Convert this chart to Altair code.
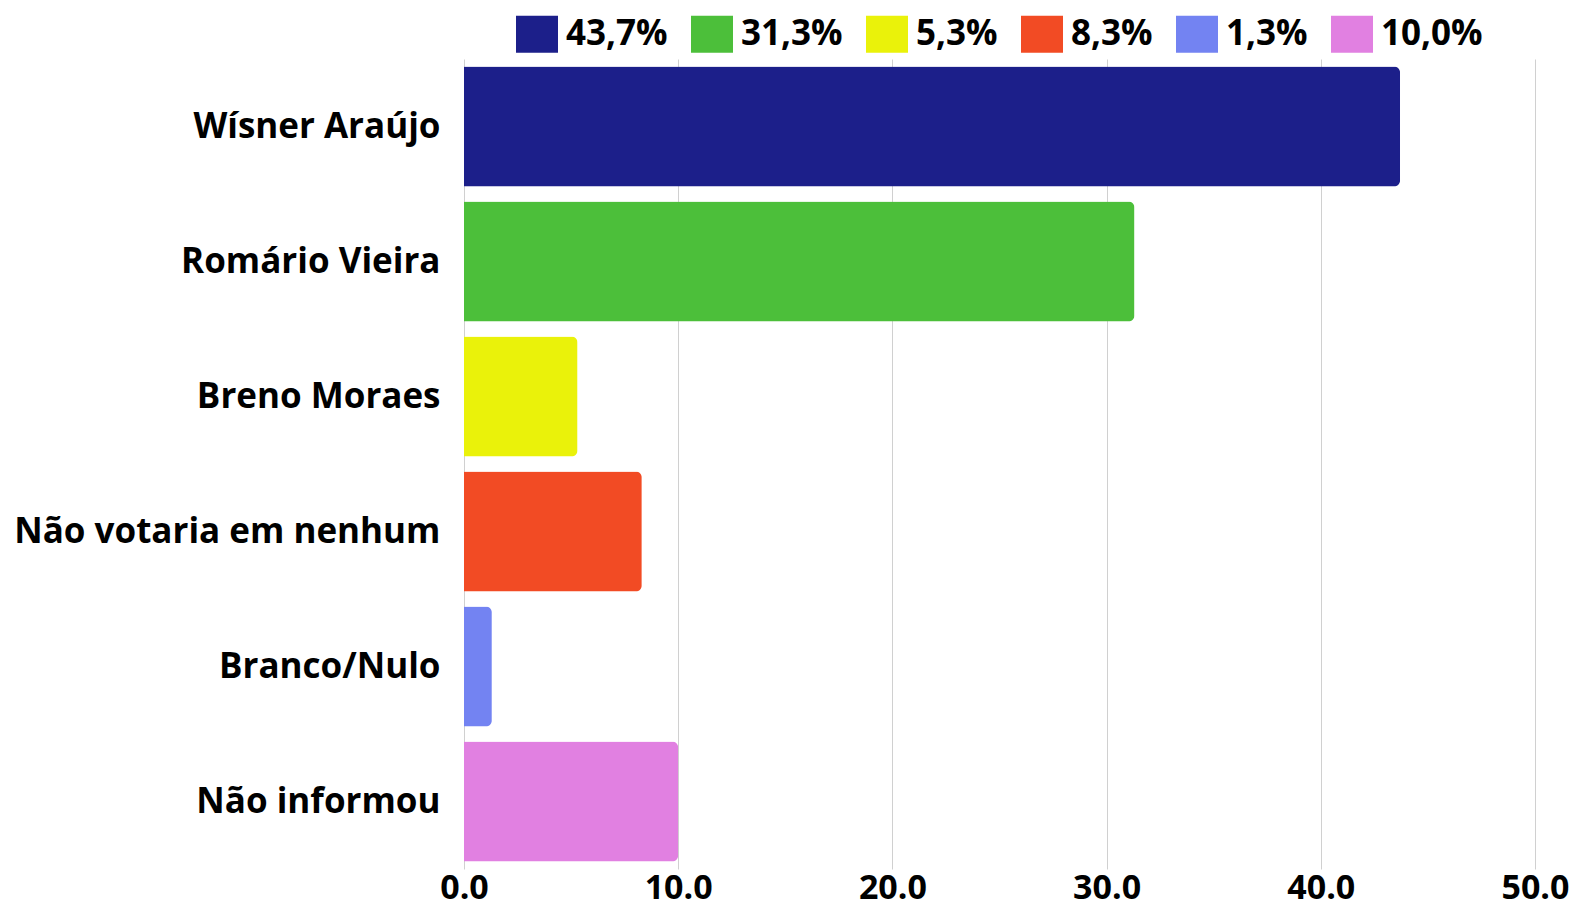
import altair as alt
import pandas as pd

categories = ["Wísner Araújo", "Romário Vieira", "Breno Moraes",
              "Não votaria em nenhum", "Branco/Nulo", "Não informou"]
values = [43.7, 31.3, 5.3, 8.3, 1.3, 10.0]
labels = ["43,7%", "31,3%", "5,3%", "8,3%", "1,3%", "10,0%"]
colors = ["#1C1F8A", "#4CBF3A", "#EAF20A", "#F24B24", "#7383F2", "#E180E1"]
x_ticks = [0, 10, 20, 30, 40, 50]

df = pd.DataFrame({"categoria": categories, "valor": values, "rotulo": labels})

FONT = "Open Sans"

chart = alt.Chart(df).mark_bar(cornerRadiusEnd=6).encode(
    y=alt.Y("categoria:N", sort=categories, title=None,
            scale=alt.Scale(paddingInner=0.11, paddingOuter=0.055),
            axis=alt.Axis(labelFontSize=35, labelFont=FONT, labelFontWeight="bold",
                          labelColor="#000000", labelPadding=24, ticks=False,
                          domain=False, grid=False, labelLimit=700)),
    x=alt.X("valor:Q", title=None,
            scale=alt.Scale(domain=[0, 50], nice=False),
            axis=alt.Axis(values=x_ticks, format=".1f", labelFontSize=34, labelFont=FONT,
                          labelFontWeight="bold", labelColor="#000000", ticks=False,
                          domain=False, grid=True, gridColor="#d0d0d0", gridWidth=1,
                          labelFlush=False, labelPadding=2)),
    color=alt.Color("rotulo:N", sort=labels,
                    scale=alt.Scale(domain=labels, range=colors),
                    legend=alt.Legend(title=None, orient="none", direction="horizontal",
                                      legendX=52, legendY=-46,
                                      symbolType="M-1,-0.88H1V0.88H-1Z", symbolSize=1764,
                                      symbolStrokeWidth=0, symbolOpacity=1,
                                      labelFontSize=35, labelFont=FONT, labelFontWeight="bold",
                                      labelColor="#000000", labelOffset=8, columnPadding=23,
                                      labelLimit=300)),
).properties(width=1071, height=810, background="white").configure_view(stroke=None)

chart.save("out.html", embed_options={"renderer": "svg", "actions": False})
